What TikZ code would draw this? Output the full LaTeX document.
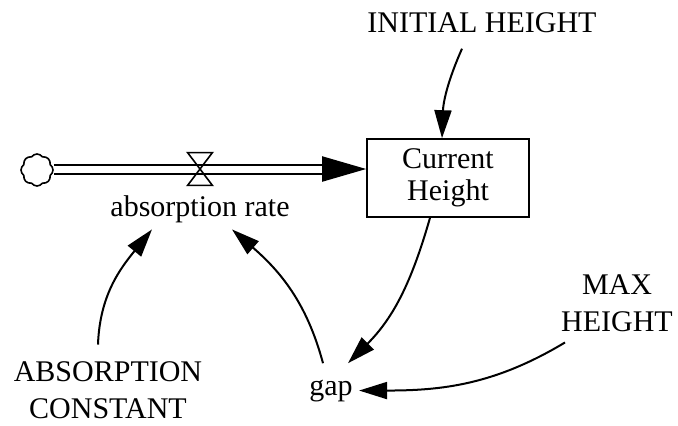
\documentclass[tikz,border=0pt]{standalone}
\usepackage{fontspec}
\setmainfont{Liberation Serif}
\usepackage{tikz}
\usetikzlibrary{positioning, arrows.meta, shapes.symbols}

\begin{document}
\begin{tikzpicture}[
        x=0.5pt, y=0.5pt,
        font=\fontsize{15}{18.5}\selectfont,
        aux/.style={inner sep=0pt, align=center},
        stock/.style={rectangle, draw=black, line width=0.8pt, minimum width=81pt, minimum height=39pt, align=center, font=\fontsize{15}{16}\selectfont},
        source/.style={cloud, cloud puffs=8, cloud puff arc=110, draw=black, line width=0.8pt, minimum width=16pt, minimum height=16pt, inner sep=0pt},
        pipe/.style={double, double distance=3.5pt, line width=1pt, -{Triangle[length=22pt,width=12.5pt]}},
        valve/.style={line width=0.8pt},
        arrow/.style={line width=1pt, -{Triangle[length=14pt,width=8.5pt]}}
    ]
    \useasboundingbox (0,0) rectangle (678,425);

    % Nodes
    \node (Stock) [stock] at (448,247) {Current\\Height};
    \node (Cloud) [source] at (37,255) {};
    \node (Valve) [inner sep=0pt, minimum width=12pt, minimum height=16pt] at (200,256) {};
    \node (Rate) [inner sep=3pt, below=2pt of Valve] {absorption rate};
    \node (InitHeight) [aux, anchor=base] at (482,393) {INITIAL HEIGHT};
    \node (MaxHeight) [aux] at (617,121.5) {MAX\\HEIGHT};
    \node (AbsConst) [aux] at (108,34.5) {ABSORPTION\\CONSTANT};
    \node (Gap) [inner xsep=3pt, inner ysep=8pt, anchor=base] at (331,30) {gap};

    % Flow
    \draw [pipe] (Cloud.east |- Valve) -- (Valve -| Stock.west);
    \draw [valve] (Valve.north west) -- (Valve.south east) -- (Valve.south west) -- (Valve.north east) -- cycle;

    % Arrows
    \draw [arrow] ([shift={(-20,-16)}]InitHeight.south) to[out=-114, in=88] ([shift={(-6,0)}]Stock.north);
    \draw [arrow] ([shift={(-18,0)}]Stock.south) to[out=-106, in=45] ([shift={(17,0)}]Gap.north);
    \draw [arrow] ([shift={(-52,-10)}]MaxHeight.south) to[out=211, in=0] (Gap.east);
    \draw [arrow] ([shift={(-8,0)}]Gap.north) to[out=105, in=-41] ([shift={(32,0)}]Rate.south);
    \draw [arrow] ([shift={(-10,17)}]AbsConst.north) to[out=88, in=231] ([shift={(-48,0)}]Rate.south);

\end{tikzpicture}
\end{document}
